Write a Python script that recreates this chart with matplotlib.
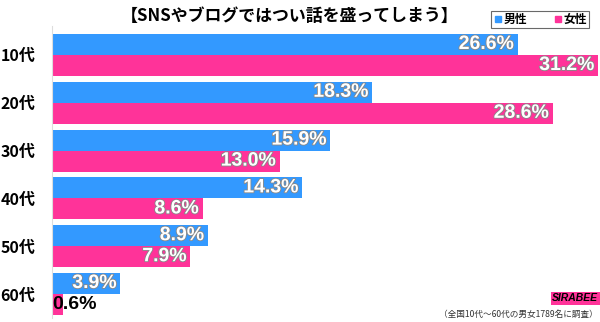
import matplotlib
matplotlib.use("Agg")
import matplotlib.pyplot as plt
import matplotlib.patheffects as pe
from matplotlib.lines import Line2D
import numpy as np

plt.rcParams['font.family'] = ['Noto Sans CJK JP', 'DejaVu Sans']

title = "【SNSやブログではつい話を盛ってしまう】"
ages = ["10代", "20代", "30代", "40代", "50代", "60代"]
male = [26.6, 18.3, 15.9, 14.3, 8.9, 3.9]
female = [31.2, 28.6, 13.0, 8.6, 7.9, 0.6]
series_names = ["男性", "女性"]
note = "（全国10代～60代の男女1789名に調査）"

blue = "#3399ff"
pink = "#ff3399"
numfont = ['Liberation Sans Narrow', 'Liberation Sans', 'DejaVu Sans']

fig = plt.figure(figsize=(6, 3.22), dpi=100)
ax = fig.add_axes([0.0867, 0.0127, 0.9133, 0.9056])

y = np.arange(len(ages))
h = 0.44
ax.barh(y - h / 2, male, height=h, color=blue)
ax.barh(y + h / 2, female, height=h, color=pink)

def put_label(v, yy):
    if v > 2:
        ax.text(v - 0.2, yy, f"{v:.1f}%", ha='right', va='center', color='white',
                fontsize=14, fontweight='bold', family=numfont,
                path_effects=[pe.withStroke(linewidth=1.2, foreground='#888888')])
    else:
        ax.text(0.0, yy, f"{v:.1f}%", ha='left', va='center', color='black',
                fontsize=14, fontweight='bold', family=numfont)

for i in range(len(ages)):
    put_label(male[i], y[i] - h / 2)
    put_label(female[i], y[i] + h / 2)

ax.set_xlim(0, 31.31)
ax.set_ylim(5.5, -0.6)
ax.set_yticks(y)
ax.set_yticklabels(ages, fontsize=11.5, fontweight='bold')
ax.tick_params(axis='y', length=0, pad=12)
ax.set_xticks([])
for s in ['top', 'right', 'bottom']:
    ax.spines[s].set_visible(False)
ax.spines['left'].set_color('#dddddd')
ax.spines['left'].set_linewidth(0.8)

fig.text(0.483, 0.952, title, ha='center', va='center', fontsize=12.2, fontweight='bold')

handles = [Line2D([], [], marker='s', color=c, linestyle='none', markersize=4)
           for c in (blue, pink)]
leg = fig.legend(handles, series_names, loc='center', bbox_to_anchor=(0.9, 0.939),
                 ncol=2, frameon=True, fancybox=False, edgecolor='#444444',
                 prop={'size': 8.5, 'weight': 'bold'}, handletextpad=0.1,
                 columnspacing=2.2, borderpad=0.15, handlelength=0.8,
                 borderaxespad=0)
leg.get_frame().set_linewidth(0.8)

fig.text(0.997, 0.073, "SIRABEE", ha='right', va='center', fontsize=7.5,
         fontweight='bold', style='italic', color='black', family=numfont,
         bbox=dict(boxstyle='square,pad=0.15', facecolor=pink, edgecolor='none'))
fig.text(0.997, 0.023, note, ha='right', va='center', fontsize=6.2, color='#333333')

fig.savefig("out.png", dpi=100)
